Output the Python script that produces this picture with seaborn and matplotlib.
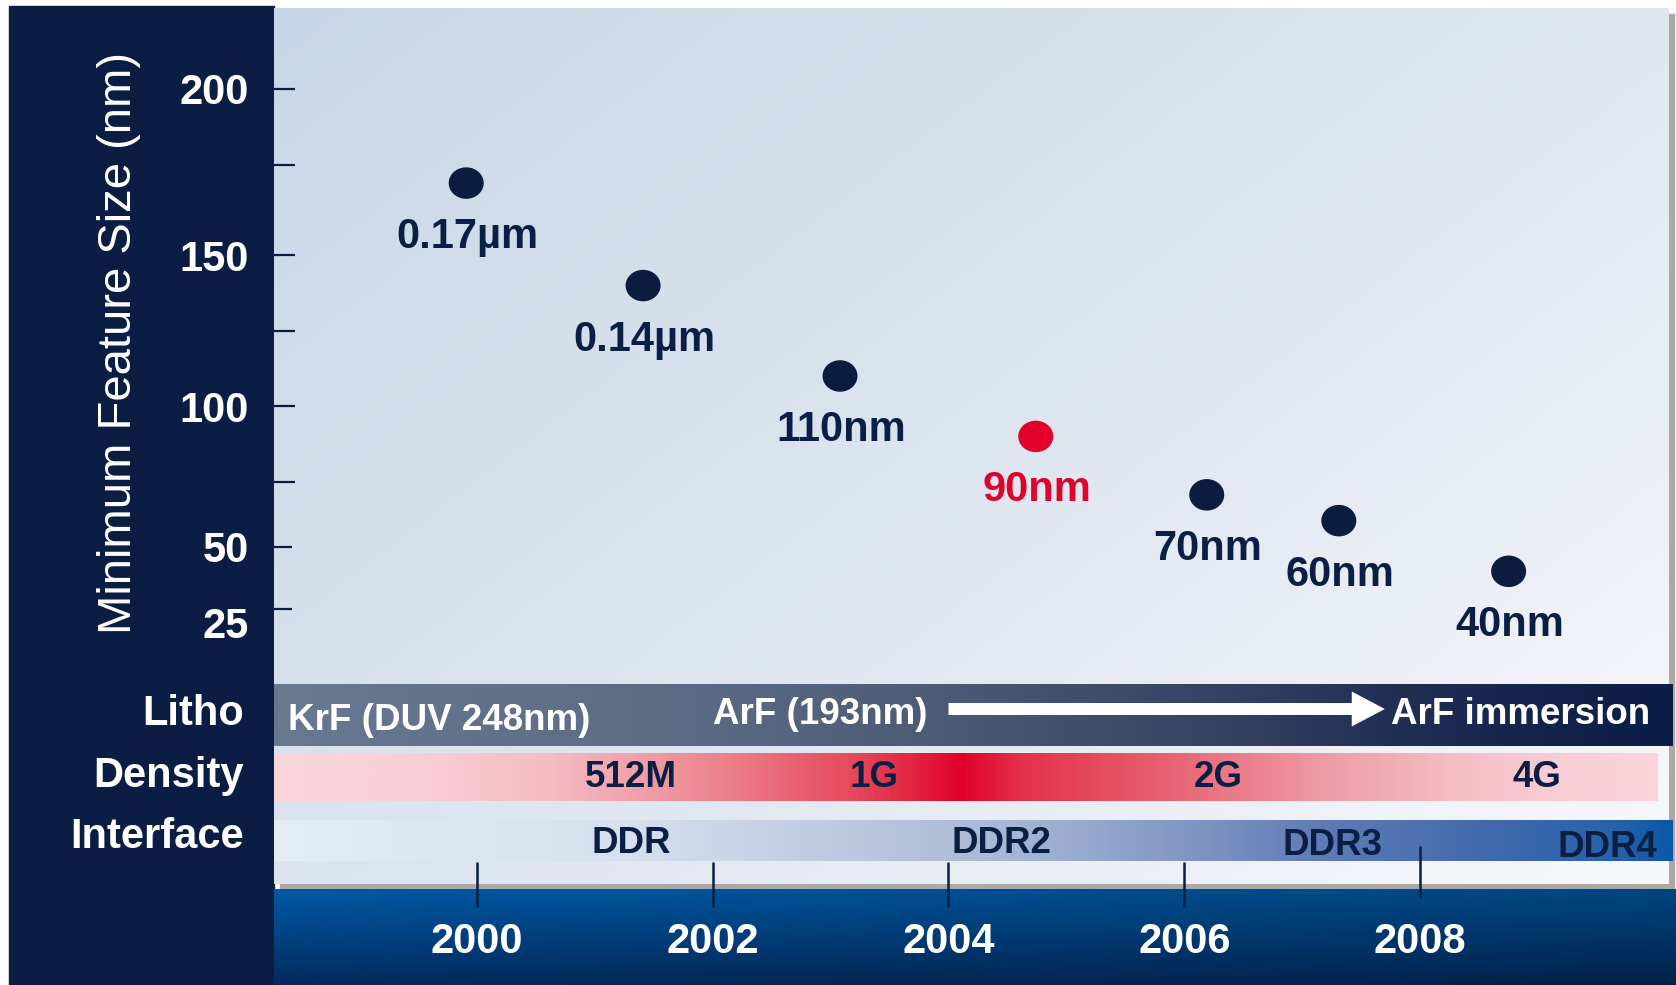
import numpy as np
import pandas as pd
import matplotlib
matplotlib.use("Agg")
import matplotlib.pyplot as plt
from matplotlib.colors import LinearSegmentedColormap, to_rgb
from matplotlib.patches import Rectangle
from matplotlib.path import Path
from matplotlib.transforms import ScaledTranslation
import seaborn as sns

# ---------------- data ----------------
node_labels = ["0.17µm", "0.14µm", "110nm", "90nm", "70nm", "60nm", "40nm"]
node_size_nm = [170, 140, 110, 90, 70, 60, 40]
node_year = [1999.91, 2001.41, 2003.08, 2004.74, 2006.19, 2007.31, 2008.75]
node_group = ["past", "past", "past", "current", "future", "future", "future"]

y_major = [25, 50, 100, 150, 200]
y_minor = [75, 125, 175]
year_ticks = [2000, 2002, 2004, 2006, 2008]

row_labels = ["Litho", "Density", "Interface"]
litho_labels = ["KrF (DUV 248nm)", "ArF (193nm)", "ArF immersion"]
litho_year = [1998.40, 2002.00, 2007.75]
arf_arrow_years = [2004.00, 2007.70]
density_labels = ["512M", "1G", "2G", "4G"]
density_year = [2001.31, 2003.37, 2006.29, 2008.99]
interface_labels = ["DDR", "DDR2", "DDR3", "DDR4"]
interface_year = [2001.31, 2004.45, 2007.26, 2009.59]

# ---------------- style ----------------
sns.set_theme(style="white")
plt.rcParams["font.family"] = ["Liberation Sans", "DejaVu Sans"]

NAVY = "#0b1d42"
DOT_NAVY = "#0b1c3f"
TEXT_NAVY = "#0b1f45"
RED = "#e2002d"

W, H = 1676, 985


def fig_rect(left, top, right, bottom):
    return [left / W, 1 - bottom / H, (right - left) / W, (bottom - top) / H]


PX_2004 = 948.5
PX_PER_YEAR = 117.92


def px_to_year(px):
    return 2004 + (px - PX_2004) / PX_PER_YEAR


def hgrad(stops, n=600):
    cmap = LinearSegmentedColormap.from_list("g", stops)
    return cmap(np.linspace(0, 1, n))[None, :, :3]


# feature-size axis: piecewise-linear spacing between the labelled sizes
KNOT_V = [-100, 25, 50, 75, 100, 125, 150, 175, 200, 400]
KNOT_T = [75.5 - 125 * 2.48, 75.5, 137.5, 202.1, 277.9, 353.2, 428.6, 519.0,
          595.3, 595.3 + 200 * 3.052]


def size_fwd(v):
    return np.interp(v, KNOT_V, KNOT_T)


def size_inv(t):
    return np.interp(t, KNOT_T, KNOT_V)


fig = plt.figure(figsize=(W / 100, H / 100), dpi=100)
fig.patch.set_facecolor("white")


def px_shift(dx, dy):
    return ScaledTranslation(dx / 100, dy / 100, fig.dpi_scale_trans)


# dark side panel and drop shadow of the chart card
fig.add_artist(Rectangle((9 / W, 0), (274 - 9) / W, (985 - 6) / H,
                         transform=fig.transFigure, color=NAVY, zorder=-2))
fig.add_artist(Rectangle((280 / W, 1 - 889 / H), (1674 - 280) / W, (889 - 14) / H,
                         transform=fig.transFigure, color="#a9a9a9", zorder=-2))

# ---------------- card background ----------------
ax_bg = fig.add_axes(fig_rect(274, 8, 1668, 884))
yy, xx = np.mgrid[0:1:200j, 0:1:300j]
bg_cmap = LinearSegmentedColormap.from_list("bg", ["#c8d7e7", "#dde5ef", "#f7f8fb"])
ax_bg.imshow(bg_cmap(0.55 * xx + 0.45 * yy)[..., :3], extent=(0, 1, 0, 1),
             aspect="auto", interpolation="bilinear")
ax_bg.set_xlim(0, 1)
ax_bg.set_ylim(0, 1)
ax_bg.axis("off")

# ---------------- technology bands ----------------
ax_bands = fig.add_axes(fig_rect(274, 684, 1676, 889))
ax_bands.set_facecolor("none")

litho_stops = [(0, "#67788f"), (0.3, "#5c6b85"), (0.5, "#4a5873"), (0.7, "#323f60"),
               (0.8, "#222f55"), (0.92, "#12224b"), (1, "#0b1e47")]
density_stops = [(0, "#fbd5dc"), (0.1, "#f9cfd6"), (0.2, "#f5bac3"), (0.26, "#f0a1aa"),
                 (0.33, "#eb7e89"), (0.42, "#e6475b"), (0.46, "#e32541"),
                 (0.497, "#e1002d"), (0.54, "#e3314a"), (0.63, "#e65a6b"),
                 (0.68, "#e97482"), (0.76, "#ee9ba5"), (0.85, "#f4bcc5"),
                 (0.93, "#f9cdd4"), (1, "#fbd4db")]
interface_stops = [(0, "#e4ecf6"), (0.255, "#d6dfed"), (0.52, "#a9b8d5"),
                   (0.654, "#8196c3"), (0.757, "#5d7ab6"), (0.877, "#3f69ae"),
                   (0.96, "#2862ab"), (1, "#0b59a7")]

x_left = px_to_year(274)
ax_bands.imshow(hgrad(litho_stops), extent=(x_left, px_to_year(1673), 746, 684),
                aspect="auto", interpolation="bilinear")
ax_bands.imshow(hgrad(density_stops), extent=(x_left, px_to_year(1658), 801, 754),
                aspect="auto", interpolation="bilinear")
ax_bands.imshow(hgrad(interface_stops), extent=(x_left, px_to_year(1673), 861, 820),
                aspect="auto", interpolation="bilinear")
ax_bands.set_xlim(x_left, px_to_year(1676))
ax_bands.set_ylim(889, 684)

for lab, yr, base in zip(litho_labels, litho_year, [730, 724, 724]):
    ax_bands.text(yr, base, lab, ha="left", va="baseline", fontsize=26.5,
                  fontweight="bold", color="white")
ax_bands.annotate("", xy=(arf_arrow_years[1], 709), xytext=(arf_arrow_years[0], 709),
                  arrowprops=dict(arrowstyle="simple,head_length=2.38,head_width=2.52,tail_width=0.86",
                                  color="white", shrinkA=0, shrinkB=0, mutation_scale=10,
                                  linewidth=0))
for lab, yr in zip(density_labels, density_year):
    ax_bands.text(yr, 787, lab, ha="center", va="baseline", fontsize=26.5,
                  fontweight="bold", color=TEXT_NAVY)
for lab, yr, base in zip(interface_labels, interface_year, [853, 853, 855, 857]):
    ax_bands.text(yr, base, lab, ha="center", va="baseline", fontsize=26.5,
                  fontweight="bold", color=TEXT_NAVY)

ax_bands.set_yticks([710, 772, 833], labels=row_labels, fontsize=30,
                    fontweight="bold", color="white")
ax_bands.tick_params(axis="y", left=True, length=0, pad=21.6)
ax_bands.tick_params(axis="x", bottom=False, labelbottom=False)
for sp in ax_bands.spines.values():
    sp.set_visible(False)

# ---------------- year strip ----------------
# axis line sits on the card's lower edge; the blue strip starts below the shadow
ax_years = fig.add_axes(fig_rect(274, 884, 1676, 985))
ax_years.set_facecolor("none")
yy2, xx2 = np.mgrid[0:1:60j, 0:1:300j]
blue_top = np.array(to_rgb("#0059a5"))
blue_bot = np.array(to_rgb("#032b5f"))
blue = blue_top * (1 - yy2[..., None]) + blue_bot * yy2[..., None]
blue = blue * (1 - 0.22 * xx2[..., None])
ax_years.imshow(blue, extent=(x_left, px_to_year(1676), 0, 96 / 101), aspect="auto",
                interpolation="bilinear")
ax_years.set_xlim(x_left, px_to_year(1676))
ax_years.set_ylim(0, 1)
ax_years.set_xticks(year_ticks, labels=[str(y) for y in year_ticks], fontsize=30,
                    fontweight="bold", color="white")
ax_years.tick_params(axis="x", which="major", top=True, bottom=False, labeltop=False,
                     labelbottom=True, direction="inout", length=32.4, width=1.8,
                     color=NAVY, pad=-61.6)
ax_years.tick_params(axis="y", left=False, labelleft=False)
last_tick = ax_years.xaxis.get_major_ticks()[-1]
last_tick.tick2line.set_markersize(37.4)
last_tick.tick2line.set_transform(last_tick.tick2line.get_transform() + px_shift(0, 12))
for sp in ax_years.spines.values():
    sp.set_visible(False)

# ---------------- feature-size scatter ----------------
ax_main = fig.add_axes(fig_rect(274, 8, 1668, 684))
ax_main.set_facecolor("none")
ax_main.set_yscale("function", functions=(size_fwd, size_inv))

nodes = pd.DataFrame({"year": node_year, "feature_nm": node_size_nm,
                      "label": node_labels, "group": node_group})
theta = np.linspace(0, 2 * np.pi, 72)
ellipse = Path(np.column_stack([np.cos(theta), 0.9 * np.sin(theta)]), closed=True)
sns.scatterplot(data=nodes, x="year", y="feature_nm", hue="group",
                palette={"past": DOT_NAVY, "current": RED, "future": DOT_NAVY},
                marker=ellipse, s=635, linewidth=0, legend=False, ax=ax_main, zorder=3)

for _, row in nodes.iterrows():
    ax_main.annotate(row["label"], (row["year"], row["feature_nm"]), xytext=(1, -65),
                     textcoords="offset pixels", ha="center", va="baseline",
                     fontsize=30, fontweight="bold",
                     color=RED if row["group"] == "current" else TEXT_NAVY)

ax_main.set_xlim(x_left, px_to_year(1668))
ax_main.set_ylim(size_inv(0), size_inv(676))
ax_main.set_yticks(y_major, labels=[str(v) for v in y_major], fontsize=30,
                   fontweight="bold", color="white")
ax_main.set_yticks(y_minor, minor=True)
ax_main.tick_params(axis="y", which="both", left=True, direction="in", length=15.1,
                    width=1.6, color=NAVY, pad=18)
ax_main.tick_params(axis="y", which="minor", labelleft=False)
low_ticks = ax_main.yaxis.get_major_ticks()[:2]
for tick in low_ticks:
    tick.tick1line.set_markersize(13)
# the lowest label sits a little under its tick
low_ticks[0].label1.set_transform(low_ticks[0].label1.get_transform() + px_shift(0, -14))
ax_main.tick_params(axis="x", bottom=False, labelbottom=False)
ax_main.set_xlabel("")
ax_main.set_ylabel("Minimum Feature Size (nm)", fontsize=34, color="white", va="center")
ax_main.yaxis.set_label_coords(-0.1112, 0.5044)
for sp in ax_main.spines.values():
    sp.set_visible(False)

fig.savefig("out.png", dpi=100)
